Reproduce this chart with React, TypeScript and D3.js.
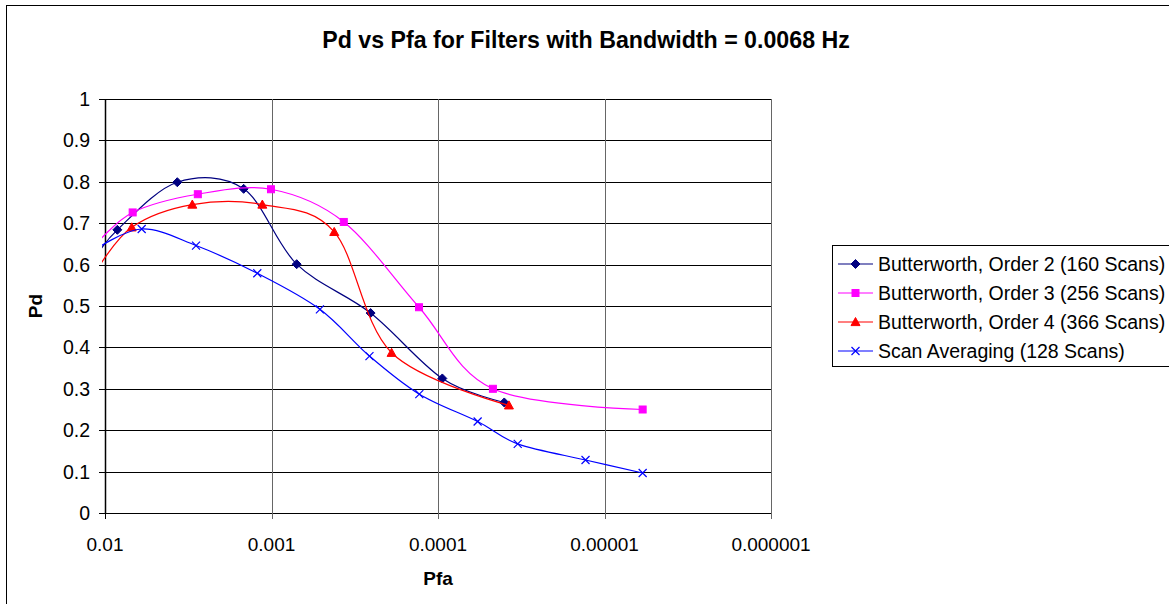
import React from "react";
import * as d3 from "d3";

const seriesNames = [
  "Butterworth, Order 2 (160 Scans)",
  "Butterworth, Order 3 (256 Scans)",
  "Butterworth, Order 4 (366 Scans)",
  "Scan Averaging (128 Scans)",
];
const seriesColors = ["#000080", "#FF00FF", "#FF0000", "#0000FF"];
const seriesMarkers = ["diamond", "square", "triangle", "x"];

const order2Pfa = [0.0115, 0.00843, 0.00368, 0.00147, 0.000706, 0.000254, 0.0000942, 0.00004];
const order2Pd = [0.615, 0.684, 0.799, 0.783, 0.601, 0.483, 0.325, 0.267];

const order3Pfa = [0.0115, 0.00682, 0.00277, 0.001007, 0.000368, 0.00013, 0.0000468, 0.0000059];
const order3Pd = [0.646, 0.726, 0.77, 0.782, 0.703, 0.497, 0.3, 0.25];

const order4Pfa = [0.0115, 0.00691, 0.00299, 0.001135, 0.00042, 0.00019, 0.0000375];
const order4Pd = [0.58, 0.69, 0.745, 0.745, 0.679, 0.387, 0.26];

const scanAvgPfa = [0.0115, 0.00602, 0.00284, 0.001217, 0.000512, 0.000258, 0.0001295, 0.0000578, 0.0000332, 0.000013, 0.0000059];
const scanAvgPd = [0.636, 0.686, 0.646, 0.579, 0.492, 0.379, 0.287, 0.221, 0.167, 0.128, 0.0966];

const xTicks = [0.01, 0.001, 0.0001, 0.00001, 0.000001];
const xTickLabels = ["0.01", "0.001", "0.0001", "0.00001", "0.000001"];
const yTicks = [0, 0.1, 0.2, 0.3, 0.4, 0.5, 0.6, 0.7, 0.8, 0.9, 1];

const FONT = "'Liberation Sans', Arial, sans-serif";

function Marker({ type, x, y, color }: { type: string; x: number; y: number; color: string }) {
  if (type === "diamond") {
    const r = 4.5;
    return <path d={`M${x},${y - r}L${x + r},${y}L${x},${y + r}L${x - r},${y}Z`} fill={color} stroke={color} />;
  }
  if (type === "square") {
    const r = 3.5;
    return <rect x={x - r} y={y - r} width={2 * r} height={2 * r} fill={color} stroke={color} />;
  }
  if (type === "triangle") {
    const r = 4.5;
    return <path d={`M${x},${y - r}L${x + r},${y + r * 0.8}L${x - r},${y + r * 0.8}Z`} fill={color} stroke={color} />;
  }
  const r = 4;
  return (
    <path d={`M${x - r},${y - r}L${x + r},${y + r}M${x - r},${y + r}L${x + r},${y - r}`} stroke={color} strokeWidth={1.2} fill="none" />
  );
}

export default function App() {
  const W = 1169, H = 604;
  const left = 105, right = 771, top = 99, bottom = 513;
  const x = d3.scaleLog().domain([0.01, 0.000001]).range([left, right]);
  const y = d3.scaleLinear().domain([0, 1]).range([bottom, top]);

  const data = [
    order2Pfa.map((p, i) => [p, order2Pd[i]]),
    order3Pfa.map((p, i) => [p, order3Pd[i]]),
    order4Pfa.map((p, i) => [p, order4Pd[i]]),
    scanAvgPfa.map((p, i) => [p, scanAvgPd[i]]),
  ];

  const line = d3
    .line<number[]>()
    .x((d) => x(d[0]))
    .y((d) => y(d[1]))
    .curve(d3.curveCardinal.tension(0));

  const legendTop = 264;
  const legendStep = 29;

  return (
    <svg width={W} height={H} style={{ position: "absolute", left: 0, top: 0, background: "#fff" }} fontFamily={FONT}>
      <defs>
        <clipPath id="plotclip">
          <rect x={102} y={0} width={W} height={H} />
        </clipPath>
      </defs>
      <rect x={0} y={0} width={W} height={H} fill="#fff" />
      <rect x={6.5} y={5.5} width={W + 10} height={H + 10} fill="none" stroke="#000" strokeWidth={1} />

      <text x={586} y={48} textAnchor="middle" fontWeight="bold" fontSize={23.2}>
        Pd vs Pfa for Filters with Bandwidth = 0.0068 Hz
      </text>

      {yTicks.map((t) => (
        <g key={"y" + t}>
          <line x1={left - 6} x2={right} y1={Math.round(y(t)) + 0.5} y2={Math.round(y(t)) + 0.5} stroke="#000" strokeWidth={1} />
          <text x={90} y={y(t) + 7} textAnchor="end" fontSize={19.5}>
            {t}
          </text>
        </g>
      ))}
      {xTicks.map((t, i) => (
        <g key={"x" + t}>
          <line x1={Math.round(x(t)) + 0.5} x2={Math.round(x(t)) + 0.5} y1={top} y2={bottom + 6} stroke={i === 0 ? "#000" : "#666"} strokeWidth={1} />
          <text x={x(t)} y={551} textAnchor="middle" fontSize={19}>
            {xTickLabels[i]}
          </text>
        </g>
      ))}
      <line x1={left + 0.5} x2={left + 0.5} y1={top} y2={bottom} stroke="#000" strokeWidth={1.5} />

      <text x={438} y={585} textAnchor="middle" fontWeight="bold" fontSize={19}>
        Pfa
      </text>
      <text transform={`translate(42,306) rotate(-90)`} textAnchor="middle" fontWeight="bold" fontSize={19}>
        Pd
      </text>

      <g clipPath="url(#plotclip)">
        {data.map((s, si) => (
          <g key={si}>
            <path d={line(s) || ""} fill="none" stroke={seriesColors[si]} strokeWidth={1.2} />
            {s.map((d, di) => (
              <Marker key={di} type={seriesMarkers[si]} x={x(d[0])} y={y(d[1])} color={seriesColors[si]} />
            ))}
          </g>
        ))}
      </g>

      <rect x={832.5} y={245.5} width={400} height={121} fill="#fff" stroke="#000" strokeWidth={1} />
      {seriesNames.map((n, i) => {
        const ly = legendTop + i * legendStep;
        return (
          <g key={n}>
            <line x1={838} x2={873} y1={ly} y2={ly} stroke={seriesColors[i]} strokeWidth={1.2} />
            <Marker type={seriesMarkers[i]} x={855.5} y={ly} color={seriesColors[i]} />
            <text x={878} y={ly + 7} fontSize={19.5}>
              {n}
            </text>
          </g>
        );
      })}
    </svg>
  );
}
